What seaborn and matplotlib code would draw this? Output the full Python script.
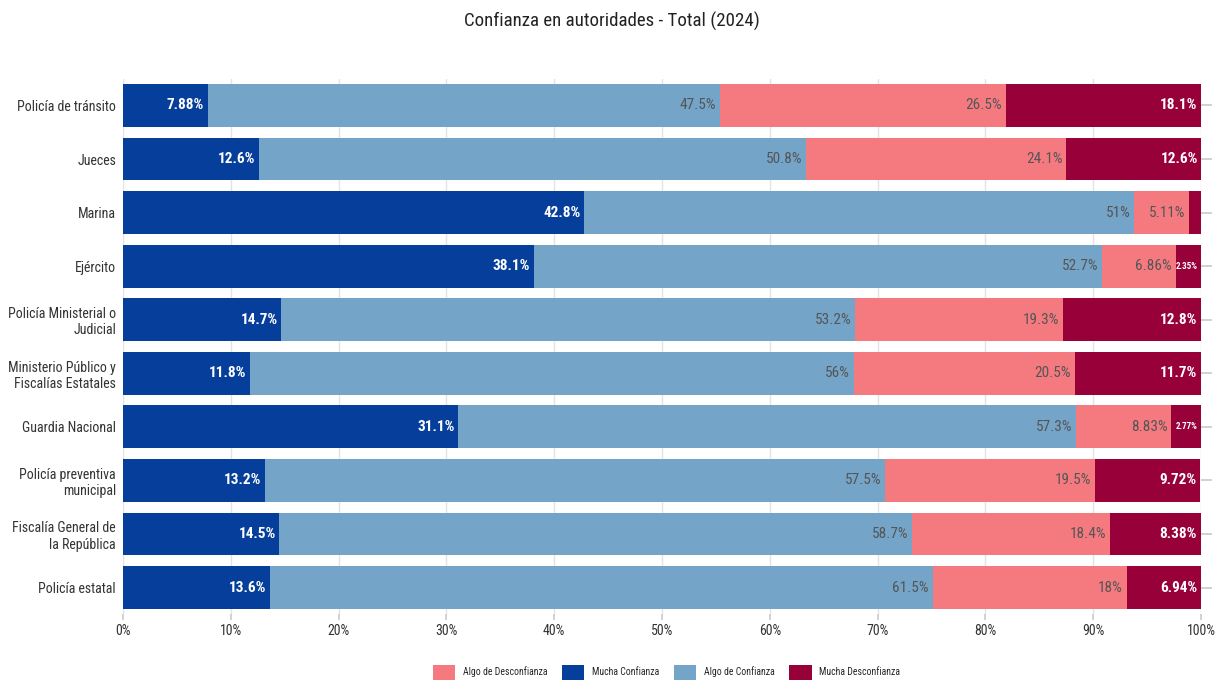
import matplotlib
matplotlib.use("Agg")
import matplotlib.pyplot as plt
import seaborn as sns
import pandas as pd
import numpy as np
from matplotlib.patches import Patch

categories = ["Policía de tránsito", "Jueces", "Marina", "Ejército",
              "Policía Ministerial o\nJudicial", "Ministerio Público y\nFiscalías Estatales",
              "Guardia Nacional", "Policía preventiva\nmunicipal",
              "Fiscalía General de\nla República", "Policía estatal"]
mucha_confianza = [7.88, 12.6, 42.8, 38.1, 14.7, 11.8, 31.1, 13.2, 14.5, 13.6]
algo_confianza = [47.5, 50.8, 51, 52.7, 53.2, 56, 57.3, 57.5, 58.7, 61.5]
algo_desconfianza = [26.5, 24.1, 5.11, 6.86, 19.3, 20.5, 8.83, 19.5, 18.4, 18]
mucha_desconfianza = [18.1, 12.6, 1.09, 2.35, 12.8, 11.7, 2.77, 9.72, 8.38, 6.94]
show_label_md = [True, True, False, True, True, True, True, True, True, True]

series_names = ["Mucha Confianza", "Algo de Confianza", "Algo de Desconfianza", "Mucha Desconfianza"]
colors = {"Mucha Confianza": "#063f9b", "Algo de Confianza": "#74a4c8",
          "Algo de Desconfianza": "#f47a80", "Mucha Desconfianza": "#970038"}

sns.set_theme(style="white")
plt.rcParams['font.family'] = ['Roboto Condensed', 'Liberation Sans Narrow', 'DejaVu Sans']

df = pd.DataFrame({"cat": categories, "Mucha Confianza": mucha_confianza,
                   "Algo de Confianza": algo_confianza,
                   "Algo de Desconfianza": algo_desconfianza,
                   "Mucha Desconfianza": mucha_desconfianza})
vals = df[series_names].to_numpy()
cum = np.cumsum(vals, axis=1)

fig = plt.figure(figsize=(12.23, 6.83), dpi=100)
ax = fig.add_axes([0.1006, 0.1006, 0.982 - 0.1006, 0.8848 - 0.1006])

# draw cumulative bars from largest to smallest so they stack visually
for i in range(3, -1, -1):
    d = pd.DataFrame({"cat": categories, "v": cum[:, i]})
    sns.barplot(data=d, y="cat", x="v", orient="h", color=colors[series_names[i]],
                saturation=1, width=0.8, ax=ax, zorder=2, linewidth=0)

ax.set_xlim(0, 100)
ax.set_xticks(np.arange(0, 101, 10))
ax.set_xticklabels([f"{t}%" for t in range(0, 101, 10)])
ax.set_xlabel("")
ax.set_ylabel("")
for s in ax.spines.values():
    s.set_visible(False)
ax.grid(axis="x", color="#e3e3e3", linewidth=1, zorder=0)
ax.set_axisbelow(True)
ax.tick_params(axis="x", bottom=True, length=4, color="#cccccc", labelsize=10, labelcolor="#333333", pad=3)
ax.tick_params(axis="y", left=False, right=True, length=8, color="#cccccc", labelsize=10, labelcolor="#333333", pad=-3)
for lab in ax.get_yticklabels():
    lab.set_horizontalalignment("right")
    lab.set_multialignment("right")

# labels
for r in range(len(categories)):
    for i, name in enumerate(series_names):
        v = vals[r, i]
        x = cum[r, i]
        if name == "Mucha Desconfianza" and not show_label_md[r]:
            continue
        txt = f"{v:g}%"
        if name in ("Mucha Confianza", "Mucha Desconfianza"):
            col = "white"
            fw = "bold"
        else:
            col = "#555555"
            fw = "normal"
        fs = 11
        if v < 3:
            fs = 6.5
        ax.text(x - 0.35, r, txt, ha="right", va="center", color=col,
                fontsize=fs, fontweight=fw, zorder=5)

fig.text(0.5, 0.968, "Confianza en autoridades - Total (2024)", ha="center", va="center",
         fontsize=13.6, color="#222222")

legend_order = ["Algo de Desconfianza", "Mucha Confianza", "Algo de Confianza", "Mucha Desconfianza"]
handles = [Patch(facecolor=colors[n], edgecolor="none", label=n) for n in legend_order]
fig.legend(handles=handles, loc="center", bbox_to_anchor=(0.545, 0.016), ncol=4, frameon=False,
           fontsize=7, handlelength=2.3, handleheight=2.0, columnspacing=1.5, handletextpad=0.8)

fig.savefig("out.png", dpi=100, facecolor="white")
